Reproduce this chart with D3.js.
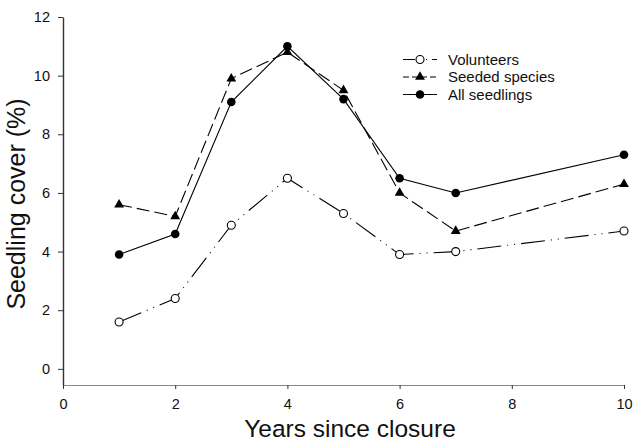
<!DOCTYPE html>
<html>
<head>
<meta charset="utf-8">
<script src="https://cdn.jsdelivr.net/npm/d3@7"></script>
<style>
  html, body { margin: 0; padding: 0; background: #fff; }
  svg { display: block; font-family: "Liberation Sans", Arial, Helvetica, sans-serif; }
</style>
</head>
<body>
<svg id="chart" width="634" height="443"></svg>
<script>
// Seedling cover (%) by years since closure
const years = [1, 2, 3, 4, 5, 6, 7, 10];
const volunteers = [1.6, 2.4, 4.9, 6.5, 5.3, 3.9, 4.0, 4.7];
const seededSpecies = [5.6, 5.2, 9.9, 10.8, 9.5, 6.0, 4.7, 6.3];
const allSeedlings = [3.9, 4.6, 9.1, 11.0, 9.2, 6.5, 6.0, 7.3];
const xTicks = [0, 2, 4, 6, 8, 10];
const yTicks = [0, 2, 4, 6, 8, 10, 12];
const seriesNames = ["Volunteers", "Seeded species", "All seedlings"];

const svg = d3.select("#chart");

const x = d3.scaleLinear().domain([0, 10]).range([63, 624]);
const y = d3.scaleLinear().domain([-0.55, 12]).range([385, 17]);

// Axes
const yAxis = svg.append("g")
  .attr("transform", `translate(${x(0)},0)`)
  .call(d3.axisLeft(y).tickValues(yTicks).tickSize(5).tickPadding(8).tickSizeOuter(0));
yAxis.select(".domain").attr("stroke", "#333").attr("stroke-width", 1.4);
yAxis.selectAll(".tick line").attr("stroke", "#333");
yAxis.selectAll(".tick text").attr("font-size", 14.5).attr("fill", "#111")
  .attr("font-family", "'Liberation Sans', Arial, sans-serif");

const xAxis = svg.append("g")
  .attr("transform", `translate(0,${y(-0.55)})`)
  .call(d3.axisBottom(x).tickValues(xTicks).tickSize(4).tickPadding(10).tickSizeOuter(0));
xAxis.select(".domain").attr("stroke", "#888").attr("stroke-width", 1.2);
xAxis.selectAll(".tick line").attr("stroke", "#333");
xAxis.selectAll(".tick text").attr("font-size", 14.5).attr("fill", "#111")
  .attr("font-family", "'Liberation Sans', Arial, sans-serif");

// Axis titles
svg.append("text")
  .attr("x", 350).attr("y", 437)
  .attr("text-anchor", "middle")
  .attr("font-size", 24.5).attr("fill", "#111")
  .text("Years since closure");

svg.append("text")
  .attr("transform", "translate(25,204) rotate(-90)")
  .attr("text-anchor", "middle")
  .attr("font-size", 25).attr("fill", "#111")
  .text("Seedling cover (%)");

// Series definitions
const series = [
  { name: seriesNames[0], values: volunteers, dash: "24,6,1,6,1,6", marker: "openCircle" },
  { name: seriesNames[1], values: seededSpecies, dash: "13,5", marker: "triangle" },
  { name: seriesNames[2], values: allSeedlings, dash: null, marker: "circle" }
];

const line = d3.line().x(d => x(d[0])).y(d => y(d[1]));

function drawMarker(g, type, cx, cy) {
  if (type === "triangle") {
    g.append("path")
      .attr("d", d3.symbol(d3.symbolTriangle, 42)())
      .attr("transform", `translate(${cx},${cy})`)
      .attr("fill", "#000");
  } else if (type === "circle") {
    g.append("circle").attr("cx", cx).attr("cy", cy).attr("r", 4.3).attr("fill", "#000");
  } else {
    g.append("circle").attr("cx", cx).attr("cy", cy).attr("r", 4)
      .attr("fill", "#fff").attr("stroke", "#000").attr("stroke-width", 1.1);
  }
}

const plot = svg.append("g");
series.forEach(s => {
  const pts = years.map((yr, i) => [yr, s.values[i]]);
  plot.append("path")
    .attr("d", line(pts))
    .attr("fill", "none")
    .attr("stroke", "#000")
    .attr("stroke-width", 1.1)
    .attr("stroke-dasharray", s.dash);
});
series.forEach(s => {
  const g = plot.append("g");
  years.forEach((yr, i) => drawMarker(g, s.marker, x(yr), y(s.values[i])));
});

// Legend
const legend = svg.append("g");
const rowY = [59.5, 77, 94.5];
series.forEach((s, i) => {
  const ly = rowY[i];
  legend.append("line")
    .attr("x1", 403).attr("x2", 437).attr("y1", ly).attr("y2", ly)
    .attr("stroke", "#000").attr("stroke-width", 1.1)
    .attr("stroke-dasharray", i === 0 ? "12,5,1,5,1,5" : (i === 1 ? "6,3" : null));
  drawMarker(legend, s.marker, 420, ly);
  legend.append("text")
    .attr("x", 448).attr("y", ly + 5.3)
    .attr("font-size", 15).attr("fill", "#111")
    .text(s.name);
});
</script>
</body>
</html>
